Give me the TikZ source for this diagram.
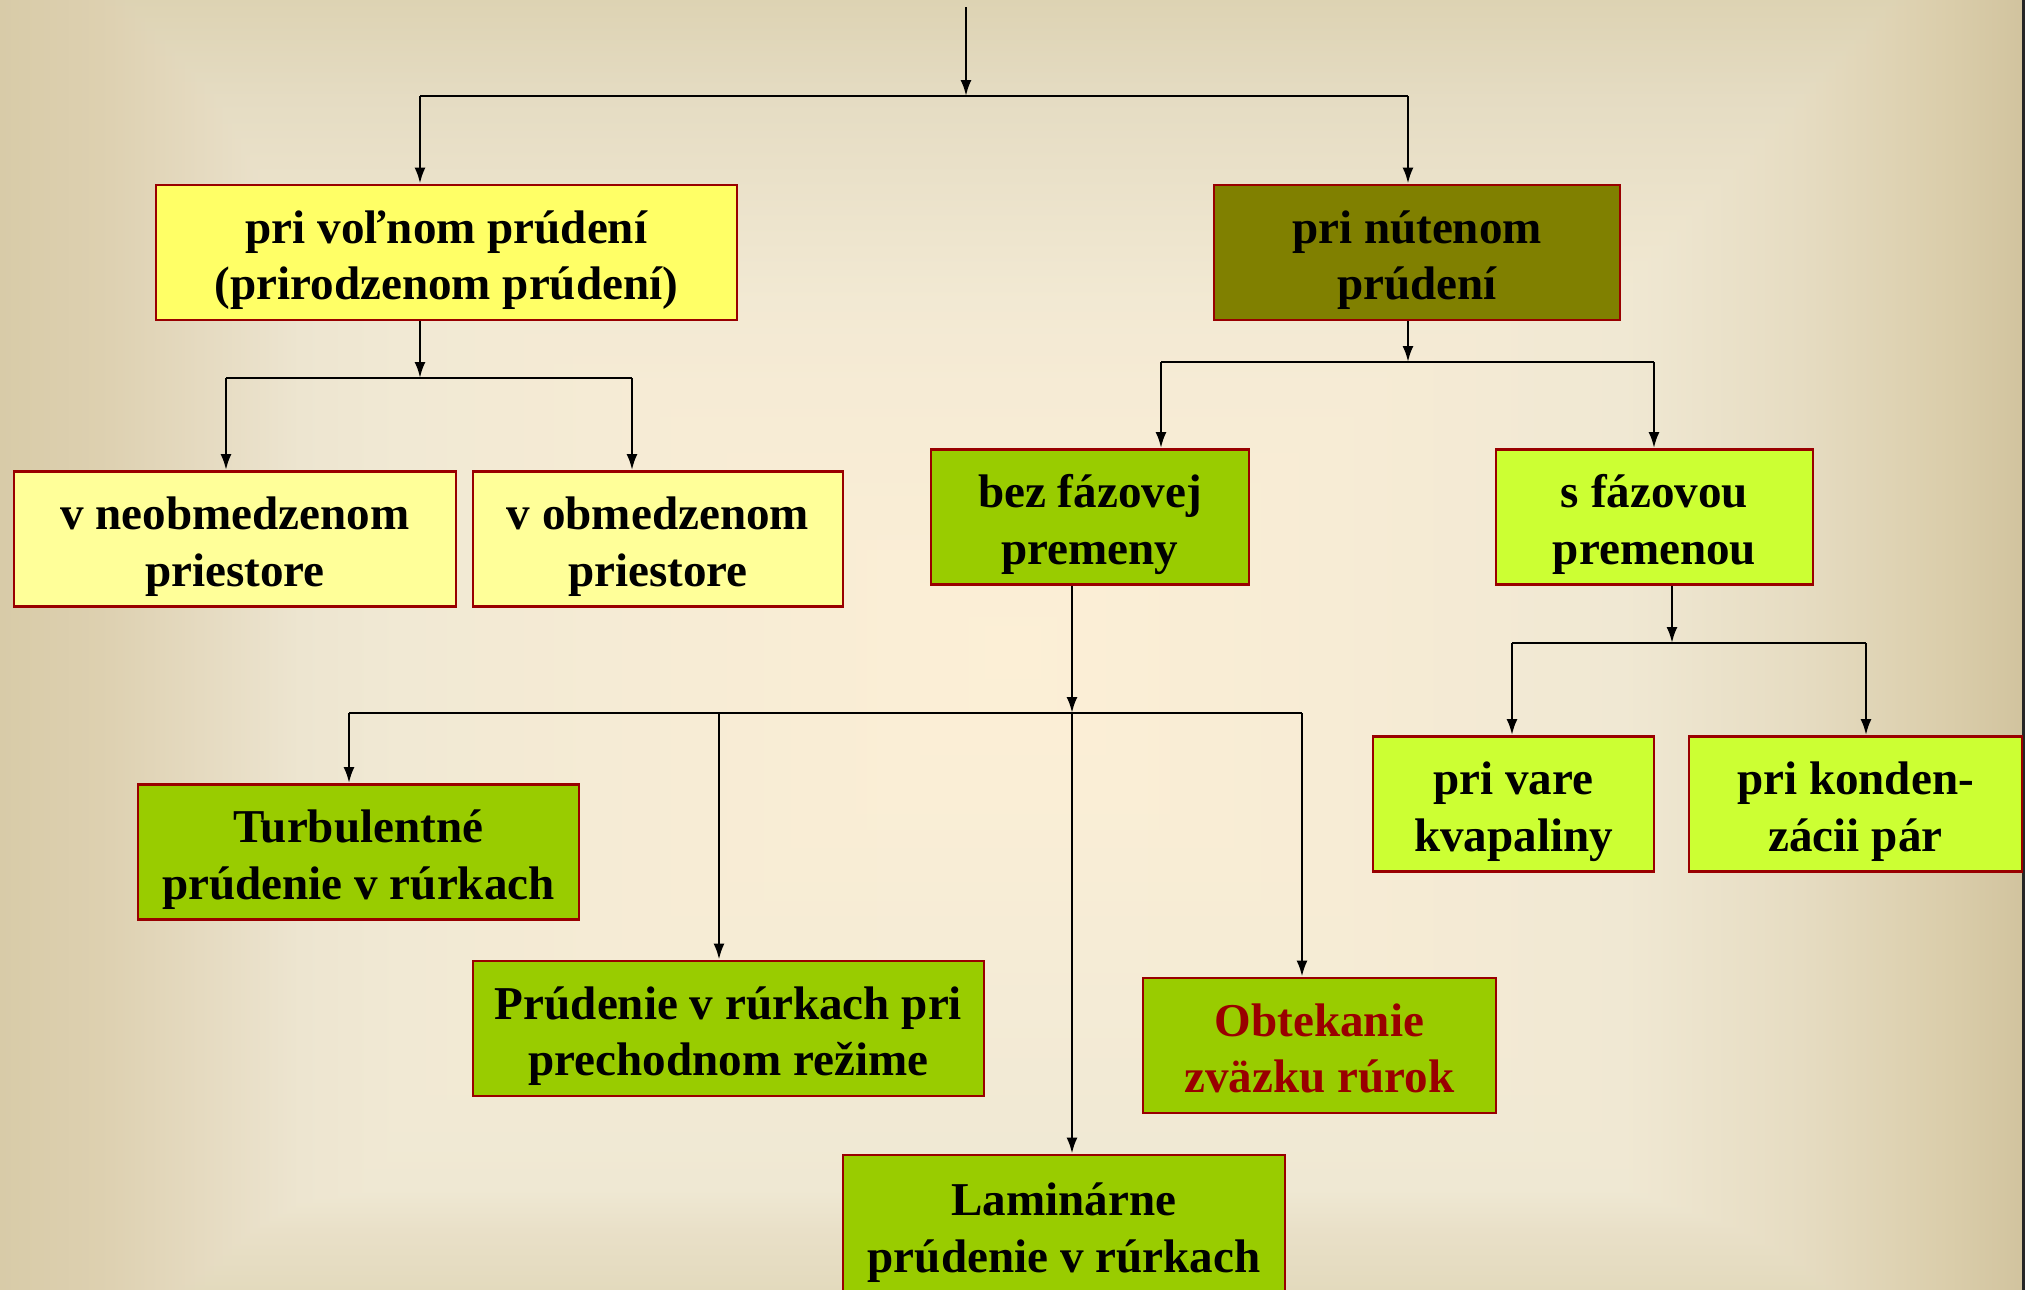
\documentclass[tikz,border=0pt]{standalone}
\usepackage{fontspec}
\setmainfont{Liberation Serif}
\usetikzlibrary{arrows.meta}

\definecolor{boxred}{HTML}{990000}
\definecolor{paleyellow}{HTML}{FFFF99}
\definecolor{brightyellow}{HTML}{FFFF66}
\definecolor{olive}{HTML}{808000}
\definecolor{grassgreen}{HTML}{99CC00}
\definecolor{limegreen}{HTML}{CCFF33}

% background, side to side
\pgfdeclarehorizontalshading{slidesides}{100bp}{
  rgb(0bp)=(0.847,0.796,0.659); rgb(25bp)=(0.847,0.796,0.659);
  rgb(27.47bp)=(0.867,0.816,0.690); rgb(29.94bp)=(0.898,0.855,0.753);
  rgb(32.41bp)=(0.929,0.898,0.816); rgb(34.88bp)=(0.945,0.914,0.831);
  rgb(42.28bp)=(0.969,0.925,0.835); rgb(50bp)=(0.988,0.937,0.839);
  rgb(57.7bp)=(0.969,0.925,0.835); rgb(65.12bp)=(0.941,0.910,0.827);
  rgb(69.44bp)=(0.902,0.863,0.761); rgb(73.15bp)=(0.855,0.804,0.667);
  rgb(75bp)=(0.820,0.765,0.620); rgb(100bp)=(0.820,0.765,0.620)}
% background, top to bottom
\pgfdeclareverticalshading{slidetopbottom}{100bp}{
  rgb(0bp)=(0.890,0.855,0.741); rgb(25bp)=(0.890,0.855,0.741);
  rgb(27.33bp)=(0.914,0.878,0.784); rgb(28.88bp)=(0.937,0.910,0.827);
  rgb(36.24bp)=(0.957,0.922,0.839); rgb(44bp)=(0.980,0.933,0.839);
  rgb(50bp)=(0.988,0.937,0.839); rgb(59.88bp)=(0.965,0.922,0.835);
  rgb(63.37bp)=(0.949,0.914,0.827); rgb(71.12bp)=(0.898,0.863,0.765);
  rgb(75bp)=(0.867,0.827,0.702); rgb(100bp)=(0.867,0.827,0.702)}

% struts for the first and last line of a box
\newcommand{\hiline}{\rule{0pt}{14pt}}
\newcommand{\loline}{\rule[-3.2pt]{0pt}{0pt}}

\begin{document}
\begin{tikzpicture}[>={Latex[length=1.6mm,width=1.1mm]},line width=0.7pt]

\begin{scope}[blend group=darken]
\shade[shading=slidesides] (0,0) rectangle (20.25,-12.90);
\shade[shading=slidetopbottom] (0,0) rectangle (20.25,-12.90);
\end{scope}
\fill[black!85] (20.22,0) rectangle (20.25,-12.90);
\useasboundingbox (0,0) rectangle (20.25,-12.90);

\begin{scope}[every node/.style={draw=boxred,line width=0.8pt,inner sep=0pt,align=center,minimum height=1.35cm,font=\bfseries\fontsize{13.4}{16}\selectfont}]
% flow kind
\node[fill=brightyellow,minimum width=5.81cm] (volne) at (4.465,-2.525) {\hiline pri voľnom prúdení\\(prirodzenom prúdení)\loline};
\node[fill=olive,minimum width=4.06cm] (nutene) at (14.17,-2.525) {\hiline pri nútenom\\prúdení\loline};
% free flow
\node[fill=paleyellow,minimum width=4.42cm] (neobmedzene) at (2.35,-5.39) {\hiline v neobmedzenom\\priestore\loline};
\node[fill=paleyellow,minimum width=3.70cm] (obmedzene) at (6.58,-5.39) {\hiline v obmedzenom\\priestore\loline};
% forced flow
\node[fill=grassgreen,minimum width=3.18cm] (bezFazovej) at (10.90,-5.17) {\hiline bez fázovej\\premeny\loline};
\node[fill=limegreen,minimum width=3.17cm] (sFazovou) at (16.545,-5.17) {\hiline s fázovou\\premenou\loline};
% phase change
\node[fill=limegreen,minimum width=2.81cm] (priVare) at (15.135,-8.04) {\hiline pri vare\\kvapaliny\loline};
\node[fill=limegreen,minimum width=3.33cm] (priKondenzacii) at (18.555,-8.04) {\hiline pri konden-\\zácii pár\loline};
% no phase change
\node[fill=grassgreen,minimum width=4.41cm] (turbulentne) at (3.585,-8.52) {\hiline Turbulentné\\prúdenie v rúrkach\loline};
\node[fill=grassgreen,minimum width=5.11cm] (prechodne) at (7.285,-10.285) {\hiline Prúdenie v rúrkach pri\\prechodnom režime\loline};
\node[fill=grassgreen,minimum width=3.53cm,text=boxred] (obtekanie) at (13.195,-10.455) {\hiline Obtekanie\\zväzku rúrok\loline};
\node[fill=grassgreen,minimum width=4.42cm,minimum height=1.40cm] (laminarne) at (10.64,-12.25) {\hiline Laminárne\\prúdenie v rúrkach\loline};
\end{scope}

% forks
\coordinate (topIn) at (9.66,-0.07);
\coordinate (fork1) at (9.66,-0.96);
\coordinate (fork1l) at (4.20,-0.96);
\coordinate (fork1r) at (14.08,-0.96);
\coordinate (fork2) at (4.20,-3.78);
\coordinate (fork2l) at (2.26,-3.78);
\coordinate (fork2r) at (6.32,-3.78);
\coordinate (fork3) at (14.08,-3.62);
\coordinate (fork3l) at (11.61,-3.62);
\coordinate (fork3r) at (16.54,-3.62);
\coordinate (fork4) at (10.72,-7.13);
\coordinate (fork4l) at (3.49,-7.13);
\coordinate (fork4m) at (7.19,-7.13);
\coordinate (fork4r) at (13.02,-7.13);
\coordinate (fork5) at (16.72,-6.43);
\coordinate (fork5l) at (15.12,-6.43);
\coordinate (fork5r) at (18.66,-6.43);

% top level
\draw[->] (topIn) -- (fork1);
\draw (fork1l) -- (fork1r);
\draw[->] (fork1l) -- (fork1l |- volne.north);
\draw[->] (fork1r) -- (fork1r |- nutene.north);

% free flow
\draw[->] (fork2 |- volne.south) -- (fork2);
\draw (fork2l) -- (fork2r);
\draw[->] (fork2l) -- (fork2l |- neobmedzene.north);
\draw[->] (fork2r) -- (fork2r |- obmedzene.north);

% forced flow
\draw[->] (fork3 |- nutene.south) -- (fork3);
\draw (fork3l) -- (fork3r);
\draw[->] (fork3l) -- (fork3l |- bezFazovej.north);
\draw[->] (fork3r) -- (fork3r |- sFazovou.north);

% without phase change
\draw[->] (fork4 |- bezFazovej.south) -- (fork4);
\draw (fork4l) -- (fork4r);
\draw[->] (fork4l) -- (fork4l |- turbulentne.north);
\draw[->] (fork4m) -- (fork4m |- prechodne.north);
\draw[->] (fork4) -- (fork4 |- laminarne.north);
\draw[->] (fork4r) -- (fork4r |- obtekanie.north);

% with phase change
\draw[->] (fork5 |- sFazovou.south) -- (fork5);
\draw (fork5l) -- (fork5r);
\draw[->] (fork5l) -- (fork5l |- priVare.north);
\draw[->] (fork5r) -- (fork5r |- priKondenzacii.north);

\end{tikzpicture}
\end{document}
